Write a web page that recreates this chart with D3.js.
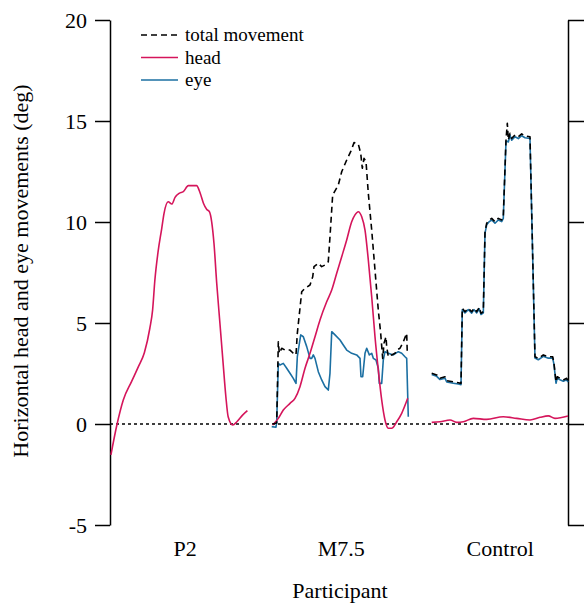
<!DOCTYPE html>
<html lang="en">
<head>
<meta charset="utf-8">
<title>Horizontal head and eye movements</title>
<script src="https://cdn.jsdelivr.net/npm/d3@7"></script>
<style>
  body { margin: 0; background: #fff; }
  text { font-family: "Liberation Serif", "Times New Roman", serif; fill: #000; }
</style>
</head>
<body>
<script>
// participants and where their labels sit on the time axis (0-100)
var participants = ["P2", "M7.5", "Control"];
var participantPos = [16.4, 50.5, 85.2];
var yTicks = [-5, 0, 5, 10, 15, 20];

// P2 (head only)
var p2T = [0.2, 1.5, 2.9, 4.7, 6.2, 7.5, 8.7, 9.3, 9.8, 10.5, 11.3, 11.8, 12.7, 13.5, 14.2, 15.1, 16.0, 17.1, 18.9, 19.7, 20.4, 21.1, 21.7, 22.2, 22.7, 23.3, 24.0, 24.7, 25.3, 25.8, 26.8, 27.7, 29.0, 30.0];
var p2Head = [-1.53, -0.05, 1.19, 2.1, 2.84, 3.53, 4.74, 5.64, 7.13, 8.53, 9.69, 10.43, 11.0, 10.89, 11.22, 11.42, 11.5, 11.8, 11.8, 11.42, 10.93, 10.63, 10.51, 10.01, 8.95, 6.97, 4.99, 3.0, 1.35, 0.36, -0.05, 0.11, 0.45, 0.66];

// M7.5
var m75TotalT = [35.5, 36.4, 36.75, 36.97, 37.49, 38.21, 39.3, 40.02, 40.61, 40.9, 41.86, 42.58, 43.67, 44.26, 44.54, 45.48, 46.22, 46.94, 47.66, 48.03, 48.62, 49.85, 50.59, 51.68, 52.55, 53.28, 54.21, 54.74, 55.09, 55.46, 55.9, 56.4, 57.14, 57.86, 58.58, 59.1, 59.54, 59.83, 60.26, 60.41, 60.77, 61.51, 62.23, 62.6, 63.32, 64.04, 64.78, 64.91];
var m75Total = [0, 0.05, 4.07, 3.5, 3.75, 3.66, 3.66, 3.5, 3.42, 4.49, 6.55, 6.72, 6.88, 7.29, 7.79, 7.96, 7.79, 7.87, 8.03, 9.27, 11.34, 11.83, 12.49, 13.07, 13.48, 13.93, 13.86, 13.4, 12.66, 13.15, 12.99, 11.42, 9.6, 7.62, 5.64, 4.49, 3.25, 4.0, 4.32, 3.83, 3.33, 3.42, 3.5, 3.66, 3.75, 4.07, 4.49, 3.5];
var m75EyeT = [35.31, 36.24, 36.4, 36.75, 37.12, 37.84, 38.58, 39.3, 40.02, 40.61, 40.9, 41.64, 42.21, 42.95, 43.67, 44.04, 44.39, 44.76, 45.48, 46.22, 46.94, 47.66, 48.03, 48.41, 49.13, 50.22, 50.94, 51.68, 52.77, 53.86, 54.59, 54.8, 55.17, 55.68, 56.05, 56.62, 57.14, 57.49, 58.08, 58.58, 58.8, 59.32, 59.67, 60.04, 60.77, 61.86, 62.95, 63.69, 64.41, 64.78, 65.13];
var m75Eye = [-0.13, -0.16, 0.11, 3.0, 2.92, 3.0, 2.76, 2.51, 2.26, 2.01, 3.33, 4.41, 4.32, 3.83, 3.25, 3.25, 3.42, 3.25, 2.59, 2.18, 1.85, 1.68, 2.51, 4.57, 4.41, 4.16, 3.91, 3.66, 3.5, 3.42, 3.25, 2.34, 2.34, 3.5, 3.75, 3.42, 3.5, 3.25, 3.17, 2.76, 2.01, 2.01, 3.17, 3.58, 3.5, 3.42, 3.58, 3.5, 3.33, 3.25, 0.36];
var m75HeadT = [35.52, 36.75, 37.84, 39.3, 40.39, 41.48, 42.58, 43.67, 44.76, 45.85, 47.31, 48.41, 49.5, 50.59, 51.68, 52.77, 53.49, 54.21, 54.96, 55.68, 56.4, 57.14, 57.86, 58.58, 59.32, 60.04, 60.77, 61.51, 62.6, 63.69, 65.0];
var m75Head = [-0.05, 0.28, 0.69, 1.02, 1.27, 1.85, 2.76, 3.5, 4.32, 5.15, 6.05, 6.63, 7.46, 8.28, 9.11, 10.01, 10.35, 10.51, 10.26, 9.6, 8.12, 6.3, 4.32, 2.67, 1.19, 0.2, -0.21, -0.21, 0.11, 0.53, 1.27];

// Control
var ctrlT = [70.24, 71.33, 72.05, 73.14, 73.52, 74.96, 76.05, 76.64, 76.92, 77.51, 78.23, 78.97, 79.48, 80.07, 80.63, 81.0, 81.51, 81.88, 82.25, 82.82, 83.34, 84.06, 84.78, 85.52, 85.87, 86.46, 86.75, 86.97, 87.34, 87.71, 88.43, 89.15, 89.89, 90.61, 91.7, 92.79, 93.52, 94.61, 95.7, 96.66, 96.94, 97.38, 97.66, 98.25, 98.97, 99.72, 100];
var ctrlTotal = [2.51, 2.43, 2.26, 2.34, 2.14, 2.09, 2.04, 2.01, 5.73, 5.56, 5.73, 5.56, 5.73, 5.56, 5.78, 5.48, 5.56, 9.52, 9.94, 10.1, 10.18, 10.01, 10.18, 10.1, 10.26, 14.06, 14.89, 14.06, 14.39, 14.14, 14.31, 14.22, 14.36, 14.26, 14.22, 3.33, 3.25, 3.42, 3.33, 3.33, 3.0, 2.09, 2.34, 2.26, 2.18, 2.26, 2.14];
var ctrlEye = [2.45, 2.36, 2.2, 2.27, 2.08, 2.02, 1.98, 1.95, 5.66, 5.5, 5.66, 5.49, 5.66, 5.5, 5.7, 5.42, 5.5, 9.45, 9.86, 10.02, 10.1, 9.94, 10.1, 10.02, 10.18, 13.98, 14.0, 13.96, 14.3, 14.05, 14.22, 14.13, 14.27, 14.17, 14.13, 3.27, 3.18, 3.35, 3.26, 3.26, 2.94, 2.02, 2.27, 2.19, 2.12, 2.19, 2.08];
var ctrlHeadT = [70.24, 72.05, 74.24, 75.7, 77.14, 79.32, 82.25, 85.87, 88.8, 91.7, 93.89, 95.7, 97.16, 100];
var ctrlHead = [0.08, 0.11, 0.2, 0.08, 0.11, 0.28, 0.23, 0.36, 0.28, 0.2, 0.33, 0.4, 0.28, 0.4];

var headColor = "#d5155b";
var eyeColor = "#1b6fa2";

var w = 584, h = 603;
var plotLeft = 110, plotRight = 568, plotTop = 20, plotBottom = 525;

var svg = d3.select("body").append("svg")
    .attr("width", w)
    .attr("height", h);

var xScale = d3.scaleLinear().domain([0, 100]).range([plotLeft, plotRight]);
var yScale = d3.scaleLinear().domain([-5, 20]).range([plotBottom, plotTop]);

function pairs(ts, vs) {
  return ts.map(function(t, i) { return [t, vs[i]]; });
}

var line = d3.line()
    .x(function(d) { return xScale(d[0]); })
    .y(function(d) { return yScale(d[1]); });

// head traces are smooth, so draw them with a monotone curve
var smoothLine = d3.line()
    .curve(d3.curveMonotoneX)
    .x(function(d) { return xScale(d[0]); })
    .y(function(d) { return yScale(d[1]); });

// axes, left with labels, right plain
var gl = svg.append("g")
    .attr("transform", "translate(" + plotLeft + ",0)")
    .call(d3.axisLeft(yScale).tickValues(yTicks).tickSize(15).tickPadding(8).tickSizeOuter(0)
      .tickFormat(function(d) { return String(d); }));

var gr = svg.append("g")
    .attr("transform", "translate(" + plotRight + ",0)")
    .call(d3.axisRight(yScale).tickValues(yTicks).tickSize(18).tickSizeOuter(0).tickFormat(""));

[gl, gr].forEach(function(g) {
  g.select(".domain").attr("stroke-width", 1.5);
  g.selectAll(".tick line").attr("stroke-width", 1.5);
  g.selectAll("text")
    .attr("font-family", "Liberation Serif")
    .attr("font-size", 22)
    .attr("fill", "#000");
});

// zero reference line
svg.append("line")
    .attr("x1", xScale(0)).attr("x2", xScale(100))
    .attr("y1", yScale(0)).attr("y2", yScale(0))
    .attr("stroke", "#000")
    .attr("stroke-width", 1.5)
    .attr("stroke-dasharray", "3,3");

// series
var series = [
  { data: pairs(m75EyeT, m75Eye), color: eyeColor, dash: null, smooth: false },
  { data: pairs(ctrlT, ctrlEye), color: eyeColor, dash: null, smooth: false },
  { data: pairs(p2T, p2Head), color: headColor, dash: null, smooth: true },
  { data: pairs(m75HeadT, m75Head), color: headColor, dash: null, smooth: true },
  { data: pairs(ctrlHeadT, ctrlHead), color: headColor, dash: null, smooth: true },
  { data: pairs(m75TotalT, m75Total), color: "#000", dash: "6,4", smooth: false },
  { data: pairs(ctrlT, ctrlTotal), color: "#000", dash: "6,4", smooth: false }
];

svg.selectAll("path.series")
  .data(series)
  .enter()
  .append("path")
    .attr("class", "series")
    .attr("d", function(d) { return d.smooth ? smoothLine(d.data) : line(d.data); })
    .attr("fill", "none")
    .attr("stroke", function(d) { return d.color; })
    .attr("stroke-width", 1.6)
    .attr("stroke-linejoin", "round")
    .attr("stroke-dasharray", function(d) { return d.dash; });

// participant labels
svg.selectAll("text.cat")
  .data(participants)
  .enter()
  .append("text")
    .attr("class", "cat")
    .attr("x", function(d, i) { return xScale(participantPos[i]); })
    .attr("y", 556)
    .attr("text-anchor", "middle")
    .style("font-size", "22px")
    .text(function(d) { return d; });

svg.append("text")
    .attr("x", 340)
    .attr("y", 598)
    .attr("text-anchor", "middle")
    .style("font-size", "22px")
    .text("Participant");

svg.append("text")
    .attr("transform", "rotate(-90)")
    .attr("x", -271)
    .attr("y", 28)
    .attr("text-anchor", "middle")
    .style("font-size", "22px")
    .text("Horizontal head and eye movements (deg)");

// legend
var legendItems = [
  { label: "total movement", color: "#000", dash: "6,4" },
  { label: "head", color: headColor, dash: null },
  { label: "eye", color: eyeColor, dash: null }
];
var legend = svg.selectAll("g.legend")
  .data(legendItems)
  .enter()
  .append("g")
    .attr("class", "legend")
    .attr("transform", function(d, i) { return "translate(141," + (35 + i * 22.5) + ")"; });
legend.append("line")
    .attr("x1", 0).attr("x2", 37)
    .attr("stroke", function(d) { return d.color; })
    .attr("stroke-width", 1.6)
    .attr("stroke-dasharray", function(d) { return d.dash; });
legend.append("text")
    .attr("x", 44)
    .attr("dy", "0.32em")
    .style("font-size", "19px")
    .text(function(d) { return d.label; });
</script>
</body>
</html>
